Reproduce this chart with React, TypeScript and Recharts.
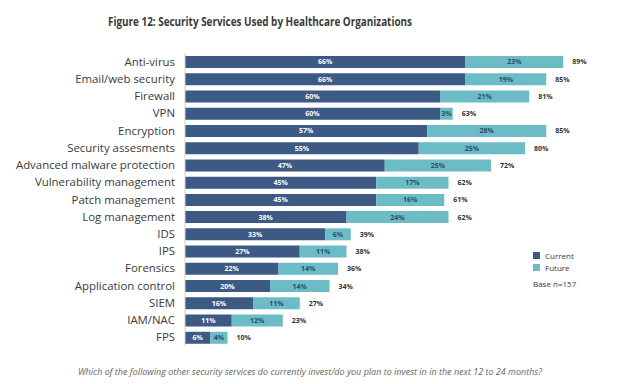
import React from "react";
import { BarChart, Bar, XAxis, YAxis, LabelList } from "recharts";

const categories = [
  "Anti-virus",
  "Email/web security",
  "Firewall",
  "VPN",
  "Encryption",
  "Security assesments",
  "Advanced malware protection",
  "Vulnerability management",
  "Patch management",
  "Log management",
  "IDS",
  "IPS",
  "Forensics",
  "Application control",
  "SIEM",
  "IAM/NAC",
  "FPS",
];
const currentValues = [66, 66, 60, 60, 57, 55, 47, 45, 45, 38, 33, 27, 22, 20, 16, 11, 6];
const futureValues = [23, 19, 21, 3, 28, 25, 25, 17, 16, 24, 6, 11, 14, 14, 11, 12, 4];
const totalValues = [89, 85, 81, 63, 85, 80, 72, 62, 61, 62, 39, 38, 36, 34, 27, 23, 10];

const data = categories.map((name, i) => ({
  name,
  current: currentValues[i],
  future: futureValues[i],
  total: totalValues[i],
}));

const CURRENT = "#3c5a83";
const FUTURE = "#6bbcc5";
const FONT = "'Open Sans', 'Noto Sans', sans-serif";

const pct = (v: any) => `${v}%`;

const CategoryTick = (props: any) => {
  const { x, y, payload } = props;
  return (
    <text x={x} y={y} dy={4} textAnchor="end" fontSize={11.4} fill="#3a3a3a" fontFamily={FONT}>
      {payload.value}
    </text>
  );
};

export default function App() {
  return (
    <div style={{ position: "absolute", left: 0, top: 0, width: 622, height: 384, background: "#fff", fontFamily: FONT }}>
      <BarChart
        width={622}
        height={384}
        data={data}
        layout="vertical"
        margin={{ top: 53, right: 12, bottom: 38, left: 0 }}
        barSize={12}
        barCategoryGap={0}
      >
        <XAxis type="number" domain={[0, 100]} hide />
        <YAxis
          type="category"
          dataKey="name"
          width={185}
          tickLine={false}
          tickSize={0}
          tickMargin={10}
          axisLine={{ stroke: "#d0d0d0", strokeWidth: 1 }}
          interval={0}
          tick={<CategoryTick />}
        />
        <Bar dataKey="current" stackId="a" fill={CURRENT} isAnimationActive={false}>
          <LabelList
            dataKey="current"
            position="center"
            formatter={pct}
            style={{ fontSize: 7, fontWeight: 700, fill: "#ffffff", fontFamily: FONT }}
          />
        </Bar>
        <Bar dataKey="future" stackId="a" fill={FUTURE} isAnimationActive={false}>
          <LabelList
            dataKey="future"
            position="center"
            formatter={pct}
            style={{ fontSize: 7, fontWeight: 700, fill: "#2f4a6a", fontFamily: FONT }}
          />
          <LabelList
            dataKey="total"
            position="right"
            offset={9}
            formatter={pct}
            style={{ fontSize: 7, fontWeight: 700, fill: "#333333", fontFamily: FONT }}
          />
        </Bar>
      </BarChart>
      <svg width={622} height={384} style={{ position: "absolute", left: 0, top: 0, pointerEvents: "none" }}>
        <text x={260} y={26} textAnchor="middle" fontSize={12} fontWeight={700} fill="#3a3a3a" fontFamily={FONT}
          textLength={304} lengthAdjust="spacingAndGlyphs">
          Figure 12: Security Services Used by Healthcare Organizations
        </text>
        <rect x={533} y={252} width={7} height={7} fill={CURRENT} />
        <text x={545} y={258.5} fontSize={8} fill="#3a3a3a" fontFamily={FONT}>Current</text>
        <rect x={533} y={264} width={7} height={7} fill={FUTURE} />
        <text x={545} y={270.5} fontSize={8} fill="#3a3a3a" fontFamily={FONT}>Future</text>
        <text x={533} y={287} fontSize={8} fill="#3a3a3a" fontFamily={FONT}>Base n=157</text>
        <text x={310} y={375} textAnchor="middle" fontSize={9} fontStyle="italic" fill="#666666" fontFamily={FONT}>
          Which of the following other security services do currently invest/do you plan to invest in in the next 12 to 24 months?
        </text>
      </svg>
    </div>
  );
}
